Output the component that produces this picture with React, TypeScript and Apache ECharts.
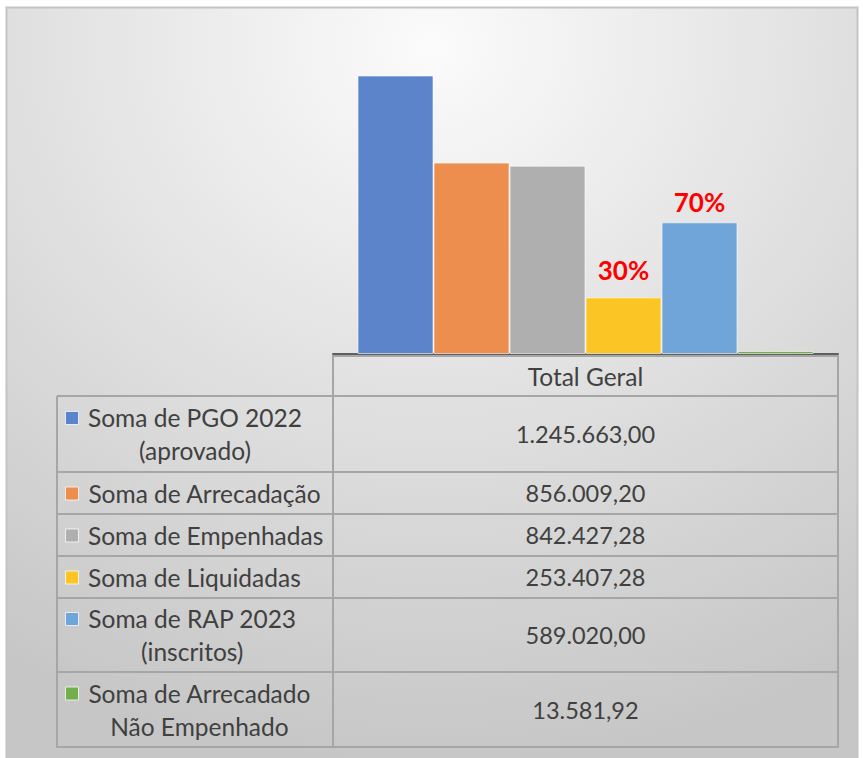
import React, { useEffect, useRef } from "react";
import * as echarts from "echarts";

const categories = ["Total Geral"];
const seriesNames = [
  "Soma de PGO 2022 (aprovado)",
  "Soma de Arrecadação",
  "Soma de Empenhadas",
  "Soma de Liquidadas",
  "Soma de RAP 2023 (inscritos)",
  "Soma de Arrecadado Não Empenhado",
];
const legendLines = [
  ["Soma de PGO 2022", "(aprovado)"],
  ["Soma de Arrecadação"],
  ["Soma de Empenhadas"],
  ["Soma de Liquidadas"],
  ["Soma de RAP 2023", "(inscritos)"],
  ["Soma de Arrecadado", "Não Empenhado"],
];
const values = [1245663.0, 856009.2, 842427.28, 253407.28, 589020.0, 13581.92];
const pctLabels = ["", "", "", "30%", "70%", ""];
const colors = ["#5b84ca", "#ed8e4e", "#afafaf", "#fbc526", "#6fa5d8", "#72ae4a"];

const FONT = "Lato";
const TEXT_SIZE = 24.5;
const VALUE_SIZE = 23.5;
const LINE_H = 33;
const TEXT_COLOR = "#404040";
const GRID_COLOR = "#a6a6a6";

// table layout
const TBL_LEFT = 57;
const TBL_SPLIT = 333;
const TBL_RIGHT = 838;
const TBL_TOP = 355;
const ROW_BOTTOMS = [396, 472, 514, 556, 598, 672, 747];

function fmtBR(v: number): string {
  const fixed = v.toFixed(2);
  const [intPart, dec] = fixed.split(".");
  const withDots = intPart.replace(/\B(?=(\d{3})+(?!\d))/g, ".");
  return withDots + "," + dec;
}

function measure(text: string, size: number): number {
  const c = document.createElement("canvas");
  const ctx = c.getContext("2d")!;
  ctx.font = `${size}px ${FONT}`;
  return ctx.measureText(text).width;
}

export default function App() {
  const ref = useRef<HTMLDivElement>(null);
  useEffect(() => {
    document.body.style.margin = "0";
    const chart = echarts.init(ref.current!, undefined, { renderer: "svg" });

    const graphics: any[] = [];
    graphics.push({
      type: "rect",
      z: -10,
      silent: true,
      shape: { x: 6.5, y: 7.5, width: 851, height: 760 },
      style: {
        fill: {
          type: "radial",
          x: 0.5,
          y: 0.05,
          r: 0.95,
          colorStops: [
            { offset: 0, color: "#fbfbfb" },
            { offset: 1, color: "#c6c6c6" },
          ],
        },
        stroke: "#c4c4c4",
        lineWidth: 2,
      },
    });

    const lineStyle = { stroke: GRID_COLOR, lineWidth: 2 };
    const addLine = (x1: number, y1: number, x2: number, y2: number) =>
      graphics.push({ type: "line", silent: true, shape: { x1, y1, x2, y2 }, style: lineStyle });

    addLine(TBL_SPLIT, TBL_TOP, TBL_SPLIT, ROW_BOTTOMS[6] + 1);
    addLine(TBL_RIGHT, TBL_TOP, TBL_RIGHT, ROW_BOTTOMS[6] + 1);
    addLine(TBL_LEFT, ROW_BOTTOMS[0], TBL_LEFT, ROW_BOTTOMS[6] + 1);
    addLine(TBL_SPLIT, TBL_TOP + 1, TBL_RIGHT, TBL_TOP + 1);
    ROW_BOTTOMS.forEach((y) => addLine(TBL_LEFT, y, TBL_RIGHT, y));

    const valCenter = (TBL_SPLIT + TBL_RIGHT) / 2;
    graphics.push({
      type: "text",
      silent: true,
      style: {
        text: categories[0],
        x: valCenter,
        y: (TBL_TOP + ROW_BOTTOMS[0]) / 2 + 1,
        align: "center",
        verticalAlign: "middle",
        fontFamily: FONT,
        fontSize: TEXT_SIZE,
        fill: TEXT_COLOR,
      },
    });

    seriesNames.forEach((_, i) => {
      const top = ROW_BOTTOMS[i];
      const bottom = ROW_BOTTOMS[i + 1];
      const mid = (top + bottom) / 2;
      const lines = legendLines[i];
      const firstY = mid - ((lines.length - 1) * LINE_H) / 2;
      const blockW = Math.max(...lines.map((l) => measure(l, TEXT_SIZE)));
      const textLeft = 88;
      lines.forEach((l, k) => {
        graphics.push({
          type: "text",
          silent: true,
          style: {
            text: l,
            x: textLeft + blockW / 2,
            y: firstY + k * LINE_H,
            align: "center",
            verticalAlign: "middle",
            fontFamily: FONT,
            fontSize: TEXT_SIZE,
            fill: TEXT_COLOR,
          },
        });
      });
      graphics.push({
        type: "rect",
        silent: true,
        shape: { x: 65.5, y: firstY - 6, width: 13, height: 13 },
        style: { fill: colors[i], stroke: "rgba(255,255,255,0.75)", lineWidth: 1 },
      });
      graphics.push({
        type: "text",
        silent: true,
        style: {
          text: fmtBR(values[i]),
          x: valCenter,
          y: mid,
          align: "center",
          verticalAlign: "middle",
          fontFamily: FONT,
          fontSize: VALUE_SIZE,
          fill: TEXT_COLOR,
        },
      });
    });

    chart.setOption({
      animation: false,
      backgroundColor: "transparent",
      grid: { left: TBL_SPLIT, right: 863 - TBL_RIGHT, top: 41, bottom: 758 - 354 },
      xAxis: {
        type: "category",
        data: categories,
        axisLine: { show: true, lineStyle: { color: "#5f5f5f", width: 2 } },
        axisTick: { show: false },
        axisLabel: { show: false },
      },
      yAxis: {
        type: "value",
        min: 0,
        max: 1400000,
        interval: 200000,
        show: false,
        splitLine: { show: false },
      },
      graphic: graphics,
      series: seriesNames.map((name, i) => ({
        type: "bar",
        name,
        data: [values[i]],
        barWidth: 76,
        barGap: "0%",
        itemStyle: { color: colors[i], borderColor: "rgba(255,255,255,0.6)", borderWidth: 1 },
        label: {
          show: pctLabels[i] !== "",
          position: "top",
          distance: i === 3 ? 14 : 7,
          formatter: () => pctLabels[i],
          color: "#ff0000",
          fontWeight: "bold",
          fontFamily: FONT,
          fontSize: 26,
        },
      })),
    });
    return () => chart.dispose();
  }, []);
  return <div ref={ref} style={{ width: 863, height: 758 }} />;
}
